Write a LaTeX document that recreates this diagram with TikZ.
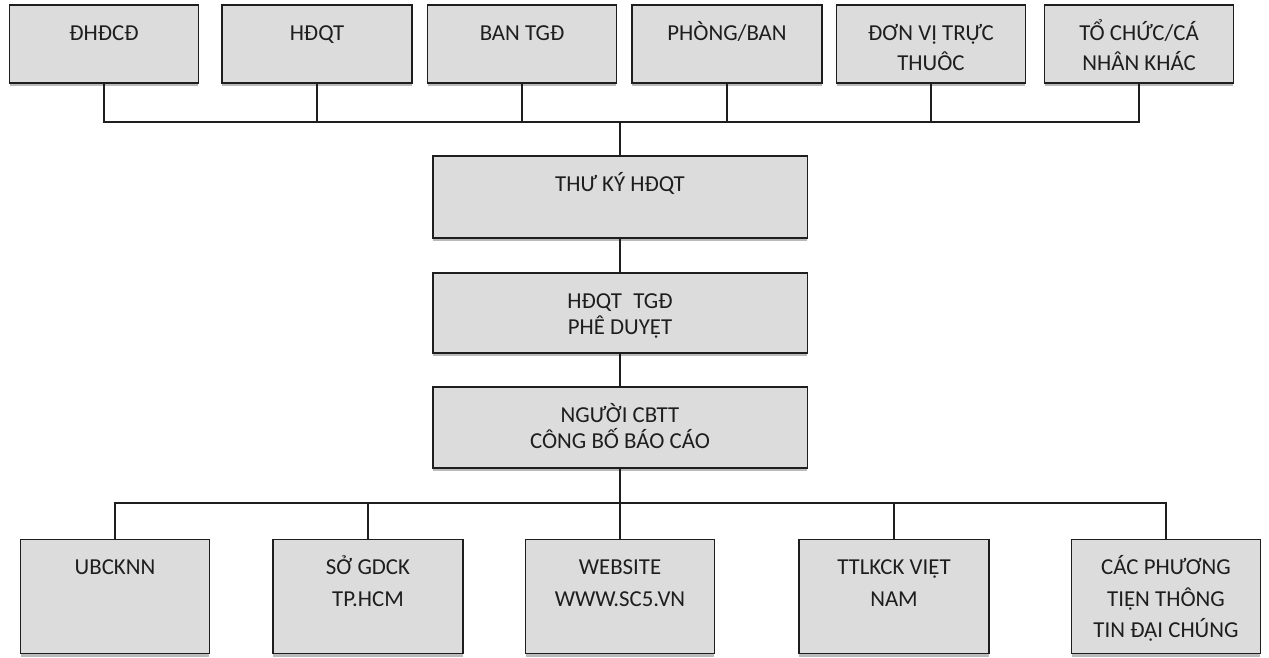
\documentclass[tikz,border=0pt]{standalone}
\usepackage{fontspec}
\setmainfont{Carlito}
\usetikzlibrary{shadows}
\usepackage{xcolor}
\definecolor{boxgray}{HTML}{DCDCDC}
\definecolor{inkgray}{HTML}{1E1E1E}

% text sits at the top of each box
\newcommand{\boxtext}[3]{\parbox[c][#2][t]{#1}{\centering\vspace*{6.5pt}\rule{0pt}{13.5pt}#3}}

\tikzset{
  box/.style={draw=inkgray, line width=1.1pt, fill=boxgray, inner sep=0pt, text=inkgray,
    font=\fontsize{13}{18}\selectfont,
    drop shadow={shadow xshift=0pt, shadow yshift=-1.8pt, fill=black!45, opacity=0.6}},
  toprow/.style={font=\fontsize{13}{17}\selectfont},
  tight/.style={font=\fontsize{13}{15}\selectfont},
  link/.style={draw=inkgray, line width=0.8pt}
}

\begin{document}
\begin{tikzpicture}[x=0.02cm, y=-0.02cm]

\useasboundingbox (0,0) rectangle (1269,658);
\fill[white] (0,0) rectangle (1269,658);

% top row
\node[box,toprow] (dhdcd) at (104,44) {\boxtext{3.78cm}{1.56cm}{ĐHĐCĐ}};
\node[box,toprow] (hdqt) at (317,44) {\boxtext{3.8cm}{1.56cm}{HĐQT}};
\node[box,toprow] (bantgd) at (522,44) {\boxtext{3.78cm}{1.56cm}{BAN TGĐ}};
\node[box,toprow] (phongban) at (727,44) {\boxtext{3.8cm}{1.56cm}{PHÒNG/BAN}};
\node[box,toprow] (donvi) at (931,44) {\boxtext{3.78cm}{1.56cm}{ĐƠN VỊ TRỰC\\THUÔC}};
\node[box,toprow] (tochuc) at (1139,44) {\boxtext{3.78cm}{1.56cm}{TỔ CHỨC/CÁ\\NHÂN KHÁC}};

% middle column
\node[box,tight] (thuky) at (620,197) {\boxtext{7.5cm}{1.64cm}{THƯ KÝ HĐQT}};
\node[box,tight] (pheduyet) at (620,313) {\boxtext{7.5cm}{1.6cm}{HĐQT\enspace TGĐ\\PHÊ DUYỆT}};
\node[box,tight] (cbtt) at (620,427.5) {\boxtext{7.5cm}{1.62cm}{NGƯỜI CBTT\\CÔNG BỐ BÁO CÁO}};

% bottom row
\node[box] (ubcknn) at (115,596.5) {\boxtext{3.78cm}{2.28cm}{UBCKNN}};
\node[box] (sogdck) at (368,596.5) {\boxtext{3.8cm}{2.28cm}{SỞ GDCK\\TP.HCM}};
\node[box] (website) at (620,596.5) {\boxtext{3.78cm}{2.28cm}{WEBSITE\\WWW.SC5.VN}};
\node[box] (ttlkck) at (894,596.5) {\boxtext{3.8cm}{2.28cm}{TTLKCK VIỆT\\NAM}};
\node[box] (phuongtien) at (1166,596.5) {\boxtext{3.78cm}{2.28cm}{CÁC PHƯƠNG\\TIỆN THÔNG\\TIN ĐẠI CHÚNG}};

% buses
\coordinate (topbus) at (620,122);
\coordinate (lowbus) at (620,503);

\draw[link] (dhdcd.south) |- (topbus) -| (tochuc.south);
\draw[link] (hdqt.south) -- (hdqt.south |- topbus);
\draw[link] (bantgd.south) -- (bantgd.south |- topbus);
\draw[link] (phongban.south) -- (phongban.south |- topbus);
\draw[link] (donvi.south) -- (donvi.south |- topbus);
\draw[link] (topbus) -- (thuky.north);

\draw[link] (thuky) -- (pheduyet);
\draw[link] (pheduyet) -- (cbtt);

\draw[link] (ubcknn.north) |- (lowbus) -| (phuongtien.north);
\draw[link] (cbtt.south) -- (website.north);
\draw[link] (sogdck.north) -- (sogdck.north |- lowbus);
\draw[link] (ttlkck.north) -- (ttlkck.north |- lowbus);

\end{tikzpicture}
\end{document}
